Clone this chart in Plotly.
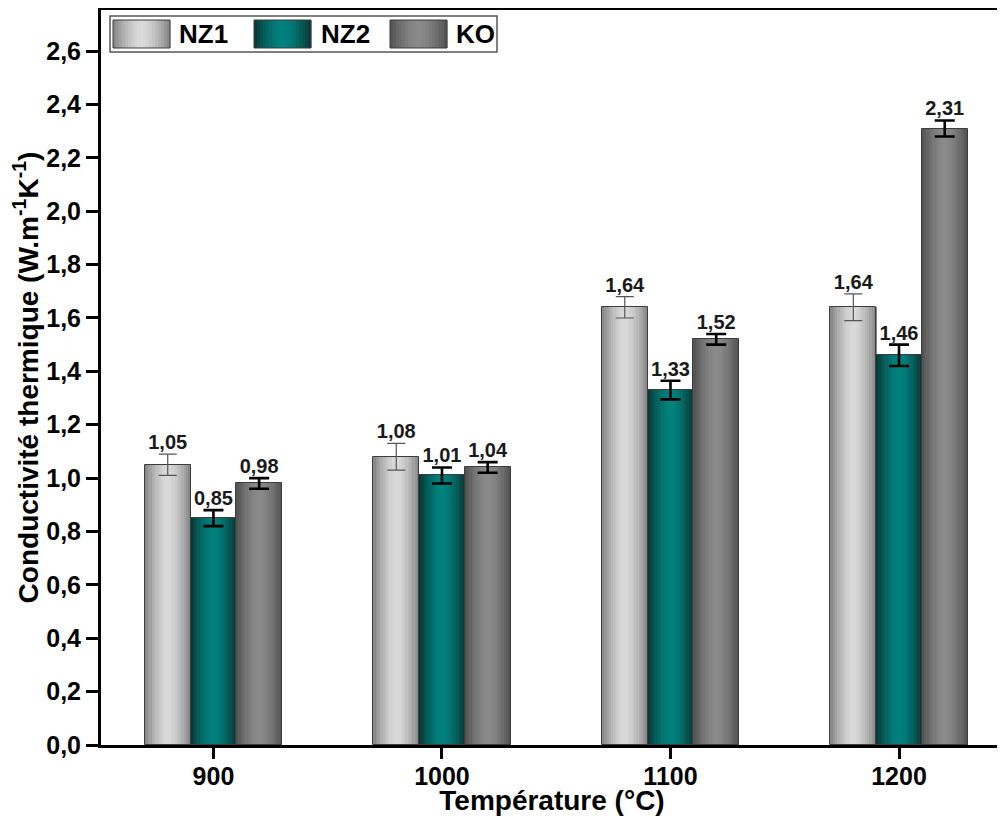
import plotly.graph_objects as go

# ---------------- data ----------------
temperatures = ["900", "1000", "1100", "1200"]
series_names = ["NZ1", "NZ2", "KO"]
nz1_values = [1.05, 1.08, 1.64, 1.64]
nz2_values = [0.85, 1.01, 1.33, 1.46]
ko_values = [0.98, 1.04, 1.52, 2.31]
nz1_errors = [0.04, 0.05, 0.04, 0.05]
nz2_errors = [0.03, 0.03, 0.035, 0.04]
ko_errors = [0.02, 0.02, 0.02, 0.03]
y_ticks = [0.0, 0.2, 0.4, 0.6, 0.8, 1.0, 1.2, 1.4, 1.6, 1.8, 2.0, 2.2, 2.4, 2.6]

values = [nz1_values, nz2_values, ko_values]
errors = [nz1_errors, nz2_errors, ko_errors]

# ---------------- style ----------------
FONT = "Liberation Sans, Arial, sans-serif"
grad_center = [(218, 218, 218), (0, 130, 126), (138, 138, 138)]
grad_edge = [(130, 130, 130), (10, 52, 50), (80, 80, 80)]
err_color = ["#555555", "#000000", "#000000"]
err_thick = [1.2, 2.6, 2.6]
err_width = [9, 10, 10]

OFF = 8                      # default page body margin
W, H = 1005 - OFF, 816 - OFF
L, R, T, B = 101 - OFF, 2, 10 - OFF, 71
PW, PH = W - L - R, H - T - B

BW = 0.2          # width of one bar (x units)
NSTRIP = 20       # gradient strips per bar


def shade(c0, c1, u):
    t = abs(2 * u - 1) ** 1.6
    return "rgb(%d,%d,%d)" % tuple(round(a + (b - a) * t) for a, b in zip(c0, c1))


x_idx = list(range(len(temperatures)))
fig = go.Figure()

for s in range(3):
    base_off = (s - 1) * BW - BW / 2
    for k in range(NSTRIP):
        u = (k + 0.5) / NSTRIP
        fig.add_trace(go.Bar(
            x=x_idx, y=values[s],
            width=BW / NSTRIP * 1.15, offset=base_off + k * BW / NSTRIP,
            marker=dict(color=shade(grad_center[s], grad_edge[s], u), line=dict(width=0)),
            showlegend=False, hoverinfo="skip",
        ))
    fig.add_trace(go.Bar(
        x=x_idx, y=values[s], width=BW, offset=base_off,
        name=series_names[s], showlegend=False,
        marker=dict(color="rgba(0,0,0,0)", line=dict(color="#3c3c3c", width=1)),
        error_y=dict(type="data", array=errors[s], visible=True,
                     color=err_color[s], thickness=err_thick[s], width=err_width[s]),
    ))
    fig.add_trace(go.Scatter(
        x=[i + (s - 1) * BW for i in x_idx],
        y=[v + e for v, e in zip(values[s], errors[s])],
        mode="text",
        text=[("%.2f" % v).replace(".", ",") for v in values[s]],
        textposition="top center",
        textfont=dict(family=FONT, size=20, color="#1a1a1a", weight="bold"),
        showlegend=False, hoverinfo="skip", cliponaxis=False,
    ))

# ---------------- custom legend (paper coords from screen pixels) ----------------
def px(xp):
    return (xp - OFF - L) / PW


def py(yp):
    return (H - B - (yp - OFF)) / PH


shapes = []
annotations = []
shapes.append(dict(type="rect", xref="paper", yref="paper",
                   x0=px(110), x1=px(497), y0=py(52), y1=py(16),
                   line=dict(color="#555555", width=1.5), fillcolor="white", layer="above"))
sw_x = [113, 254, 390]
tx_x = [177, 319, 454]
SW_W, NS = 57, 19
for s in range(3):
    for k in range(NS):
        u = (k + 0.5) / NS
        shapes.append(dict(type="rect", xref="paper", yref="paper",
                           x0=px(sw_x[s] + k * SW_W / NS), x1=px(sw_x[s] + (k + 1.1) * SW_W / NS),
                           y0=py(48), y1=py(20), line=dict(width=0),
                           fillcolor=shade(grad_center[s], grad_edge[s], u), layer="above"))
    shapes.append(dict(type="rect", xref="paper", yref="paper",
                       x0=px(sw_x[s]), x1=px(sw_x[s] + SW_W), y0=py(48), y1=py(20),
                       line=dict(color="#3c3c3c", width=1), layer="above"))
    annotations.append(dict(xref="paper", yref="paper", x=px(tx_x[s]), y=py(34),
                            xanchor="left", yanchor="middle", showarrow=False,
                            text=series_names[s],
                            font=dict(family=FONT, size=26, color="black", weight="bold")))

fig.update_layout(
    width=W, height=H,
    margin=dict(l=L, r=R, t=T, b=B, autoexpand=False),
    paper_bgcolor="white", plot_bgcolor="white",
    barmode="overlay", bargap=0,
    separators=", ",
    showlegend=False,
    shapes=shapes, annotations=annotations,
    font=dict(family=FONT, color="black"),
)
fig.update_xaxes(
    range=[-0.492, 3.455], tickmode="array", tickvals=x_idx, ticktext=temperatures,
    showgrid=False, zeroline=False,
    showline=True, linecolor="black", linewidth=3, mirror=True,
    ticks="outside", ticklen=11, tickwidth=3, tickcolor="black",
    ticklabelstandoff=-4,
    tickfont=dict(family=FONT, size=25, color="black", weight="bold"),
    title=dict(text="Température (°C)", standoff=0,
               font=dict(family=FONT, size=28, color="black", weight="bold")),
)
fig.update_yaxes(
    range=[0, 2.754], tickmode="array", tickvals=y_ticks,
    ticktext=[("%.1f" % v).replace(".", ",") for v in y_ticks],
    showgrid=False, zeroline=False,
    showline=True, linecolor="black", linewidth=3, mirror=True,
    ticks="outside", ticklen=12, tickwidth=3, tickcolor="black",
    tickfont=dict(family=FONT, size=25, color="black", weight="bold"),
    title=dict(text="Conductivité thermique (W.m<sup>-1</sup>K<sup>-1</sup>)", standoff=4,
               font=dict(family=FONT, size=28, color="black", weight="bold")),
)

fig.write_html("out.html")
